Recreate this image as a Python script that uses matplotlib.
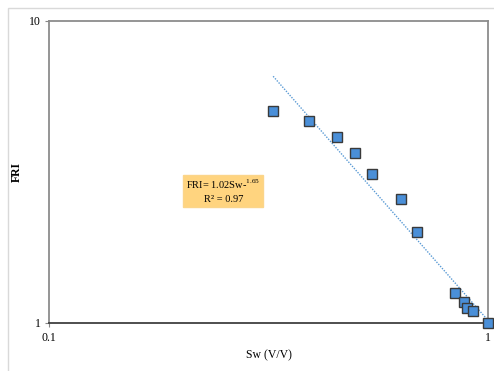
import numpy as np
import matplotlib.pyplot as plt
from matplotlib.patches import Rectangle

# data
sw = [0.324, 0.391, 0.453, 0.498, 0.544, 0.635, 0.689, 0.841, 0.882, 0.894, 0.922, 1.0]
fri = [5.04, 4.65, 4.13, 3.64, 3.10, 2.58, 2.00, 1.256, 1.176, 1.118, 1.096, 1.0]
fit_a = 1.02
fit_b = -1.65

plt.rcParams['font.family'] = ['Liberation Serif', 'DejaVu Serif']
plt.rcParams['mathtext.fontset'] = 'custom'
plt.rcParams['mathtext.rm'] = 'Liberation Serif'

fig = plt.figure(figsize=(4.94, 3.71), dpi=100)
fig.patches.append(Rectangle((8 / 494, -0.1), 1.2, 1 - 8 / 371 + 0.1,
                             transform=fig.transFigure, fill=False,
                             edgecolor='#d9d9d9', linewidth=1))
ax = fig.add_axes([0.0992, 0.1294, 0.8887, 0.8148])

xs = np.logspace(np.log10(min(sw)), np.log10(max(sw)), 50)
ax.plot(xs, fit_a * xs ** fit_b, linestyle=(0, (1, 1)), color='#5b9bd5',
        linewidth=1, zorder=2)
ax.plot(sw, fri, linestyle='none', marker='s', markersize=7,
        markerfacecolor='#4a8fd8', markeredgecolor='#3a3a3a',
        markeredgewidth=1, zorder=3, clip_on=False)

ax.set_xscale('log')
ax.set_yscale('log')
ax.set_xlim(0.1, 1)
ax.set_ylim(1, 10)
ax.set_xticks([0.1, 1])
ax.set_xticklabels(['0.1', '1'])
ax.set_yticks([1, 10])
ax.set_yticklabels(['1', '10'])
ax.minorticks_off()
ax.tick_params(axis='both', labelsize=8.5, length=3, color='#868686')
ax.tick_params(axis='y', pad=3)
for s in ax.spines.values():
    s.set_color('#8c8c8c')
    s.set_linewidth(1.3)
ax.spines['bottom'].set_color('#404040')

ax.set_xlabel('Sw (V/V)', fontsize=8.5, labelpad=4)
ax.set_ylabel('FRI', fontsize=8.5, fontweight='bold')
ax.yaxis.set_label_coords(-0.059, 0.5)

ax.text(0.397, 0.4366, 'FRI= 1.02Sw-$^{1.65}$\nR² = 0.97', transform=ax.transAxes,
        ha='center', va='center', fontsize=7.5, linespacing=1.45,
        bbox=dict(boxstyle='square,pad=0.3', facecolor='#ffd47f',
                  edgecolor='#fbd58a', linewidth=1))

plt.savefig('out.png', dpi=100)
plt.close(fig)
